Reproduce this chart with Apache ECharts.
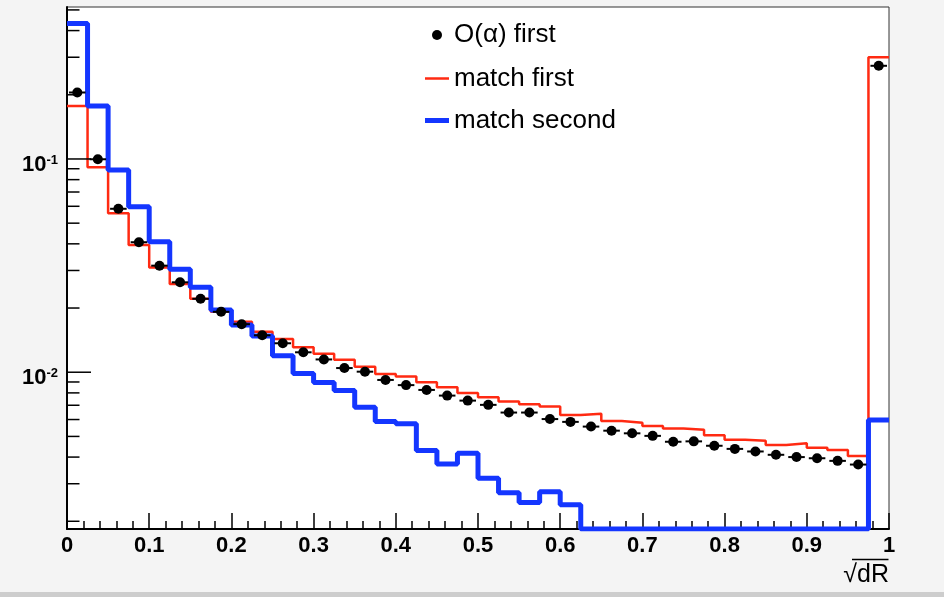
<!DOCTYPE html>
<html><head><meta charset="utf-8">
<script src="https://cdn.jsdelivr.net/npm/echarts@6/dist/echarts.min.js"></script>
<style>html,body{margin:0;padding:0;background:#f4f4f4}#c{width:944px;height:597px}</style>
</head><body><div id="c"></div>
<script>
// ---- data ----
const binEdges = [0,0.025,0.05,0.075,0.1,0.125,0.15,0.175,0.2,0.225,0.25,0.275,0.3,0.325,0.35,0.375,0.4,0.425,0.45,0.475,0.5,
  0.525,0.55,0.575,0.6,0.625,0.65,0.675,0.7,0.725,0.75,0.775,0.8,0.825,0.85,0.875,0.9,0.925,0.95,0.975,1.0];
const oAlphaFirst = [0.205,0.0997,0.0584,0.0407,0.0316,0.0264,0.0221,0.0192,0.0168,0.0149,
  0.01367,0.0124,0.01148,0.01046,0.01006,0.0092,0.0087,0.00826,0.00777,0.00736,
  0.00703,0.00647,0.00647,0.00603,0.00585,0.00556,0.00532,0.00517,0.00503,0.00472,
  0.00474,0.00452,0.00437,0.00425,0.0041,0.0040,0.00395,0.00384,0.00369,0.2735];
const matchFirst = [0.177,0.0914,0.0556,0.0395,0.031,0.0259,0.0221,0.0192,0.01726,0.0155,
  0.0143,0.0131,0.0122,0.01143,0.01062,0.00982,0.00955,0.00898,0.00851,0.00798,
  0.00764,0.00728,0.00708,0.0069,0.0063,0.00638,0.0059,0.0058,0.0056,0.00545,
  0.00537,0.00507,0.00482,0.00477,0.00456,0.00465,0.00443,0.00432,0.00405,0.30];
const matchSecond = [0.432,0.177,0.0888,0.0597,0.0409,0.0304,0.025,0.0196,0.01666,0.0148,
  0.01196,0.00987,0.00894,0.0082,0.00686,0.00588,0.00573,0.0043,0.00371,0.00417,
  0.00318,0.00272,0.00245,0.00275,0.00239,0,0,0,0,0,
  0,0,0,0,0,0,0,0,0,0.00597];
const seriesNames = ['O(\u03b1) first','match first','match second'];
const yMin = 0.00184, yMax = 0.516;
const yMajorTicks = [0.01, 0.1];
const yMajorExponents = ['-2', '-1'];
const yMinorTicks = [0.002,0.003,0.004,0.005,0.006,0.007,0.008,0.009,
  0.02,0.03,0.04,0.05,0.06,0.07,0.08,0.09,0.2,0.3,0.4,0.5];
const xAxisTitle = '\u221AdR';

// ---- build ----
const clampY = v => Math.max(v, yMin);
const histPoints = vals => binEdges.map((x, i) => [x, clampY(vals[Math.min(i, vals.length - 1)])]);
const centers = oAlphaFirst.map((v, i) => (binEdges[i] + binEdges[i + 1]) / 2);
const FONT = 'Liberation Sans, Arial, Helvetica, sans-serif';
const RED = '#ff2a12', BLUE = '#1436ff';

const chart = echarts.init(document.getElementById('c'), null, {renderer: 'canvas'});
const legendBase = {
  orient: 'vertical', left: 425, padding: 0, itemWidth: 24, selectedMode: false,
  itemStyle: {borderWidth: 0, opacity: 1},
  textStyle: {fontSize: 26, fontFamily: FONT, color: '#000'}
};
chart.setOption({
  animation: false,
  backgroundColor: '#f4f4f4',
  grid: {left: 67, right: 55, top: 7, bottom: 68, show: true, backgroundColor: '#fff',
    borderColor: '#333', borderWidth: 1, containLabel: false, outerBoundsMode: 'none'},
  legend: [
    Object.assign({}, legendBase, {left: 432, top: 22, itemHeight: 10, data: [{name: seriesNames[0], icon: 'circle'}]}),
    Object.assign({}, legendBase, {top: 65.5, itemHeight: 2.5, data: [{name: seriesNames[1], icon: 'rect'}]}),
    Object.assign({}, legendBase, {top: 107.5, itemHeight: 5, data: [{name: seriesNames[2], icon: 'rect'}]})
  ],
  xAxis: {
    type: 'value', min: 0, max: 1, interval: 0.1,
    axisLine: {onZero: false, lineStyle: {color: '#000', width: 2}},
    axisTick: {inside: true, length: 16, lineStyle: {color: '#000', width: 1.5}},
    minorTick: {show: true, splitNumber: 5, length: 8, lineStyle: {color: '#000', width: 1.5}},
    splitLine: {show: false},
    axisLabel: {margin: 6, fontSize: 22, fontWeight: 'bold', color: '#000', fontFamily: FONT},
    name: xAxisTitle, nameLocation: 'end', nameGap: 0, nameMoveOverlap: false,
    nameTextStyle: {fontSize: 25, fontFamily: FONT, color: '#000', align: 'right', verticalAlign: 'top', padding: [34, 0, 0, 0]}
  },
  yAxis: {
    type: 'log', logBase: 10, min: yMin, max: yMax,
    axisLine: {onZero: false, lineStyle: {color: '#000', width: 2}},
    axisTick: {show: false}, axisLabel: {show: false}, splitLine: {show: false}, minorTick: {show: false}
  },
  graphic: [
    {type: 'line', shape: {x1: 852, y1: 559.5, x2: 888.5, y2: 559.5}, style: {stroke: '#000', lineWidth: 1.5}},
    {type: 'rect', left: 0, top: 592, shape: {width: 944, height: 5}, style: {fill: '#cdcdcd'}}
  ],
  series: [
    {name: seriesNames[1], type: 'line', step: 'end', symbol: 'none', data: histPoints(matchFirst),
      color: RED, lineStyle: {color: RED, width: 2.5}, z: 2},
    {name: seriesNames[2], type: 'line', step: 'end', symbol: 'none', data: histPoints(matchSecond),
      color: BLUE, lineStyle: {color: BLUE, width: 5}, z: 3},
    {name: seriesNames[0] + ' bars', type: 'custom', z: 4, clip: false,
      data: oAlphaFirst.map((v, i) => [centers[i], v]),
      renderItem: (params, api) => {
        const i = params.dataIndex;
        const v = api.value(1);
        const pl = api.coord([binEdges[i], v]);
        const pr = api.coord([binEdges[i + 1], v]);
        return {type: 'line', shape: {x1: pl[0] + 2, y1: pl[1], x2: pr[0] - 2, y2: pr[1]},
          style: {stroke: '#000', lineWidth: 2}};
      }},
    {name: seriesNames[0], type: 'scatter', symbol: 'circle', symbolSize: 10, z: 5,
      itemStyle: {color: '#000', opacity: 1}, data: oAlphaFirst.map((v, i) => [centers[i], v])},
    {name: 'yMinorTicks', type: 'custom', z: 6, clip: false, silent: true,
      data: yMinorTicks.map(v => [0, v]),
      renderItem: (params, api) => {
        const p = api.coord([0, api.value(1)]);
        return {type: 'line', shape: {x1: p[0], y1: p[1], x2: p[0] + 12.5, y2: p[1]},
          style: {stroke: '#000', lineWidth: 1.5}};
      }},
    {name: 'yMajorTicks', type: 'custom', z: 6, clip: false, silent: true,
      data: yMajorTicks.map(v => [0, v]),
      renderItem: (params, api) => {
        const p = api.coord([0, api.value(1)]);
        return {type: 'group', children: [
          {type: 'line', shape: {x1: p[0], y1: p[1], x2: p[0] + 24, y2: p[1]},
            style: {stroke: '#000', lineWidth: 1.5}},
          {type: 'text', x: p[0] - 9, y: p[1], style: {
            text: '{b|10}{s|' + yMajorExponents[params.dataIndex] + '}',
            align: 'right', verticalAlign: 'middle', padding: [12, 0, 0, 0],
            rich: {
              b: {fontSize: 22, lineHeight: 22, fontWeight: 'bold', fontFamily: FONT, fill: '#000'},
              s: {fontSize: 13, lineHeight: 10, fontWeight: 'bold', fontFamily: FONT, fill: '#000', verticalAlign: 'top'}
            }}}
        ]};
      }}
  ]
});
</script></body></html>
